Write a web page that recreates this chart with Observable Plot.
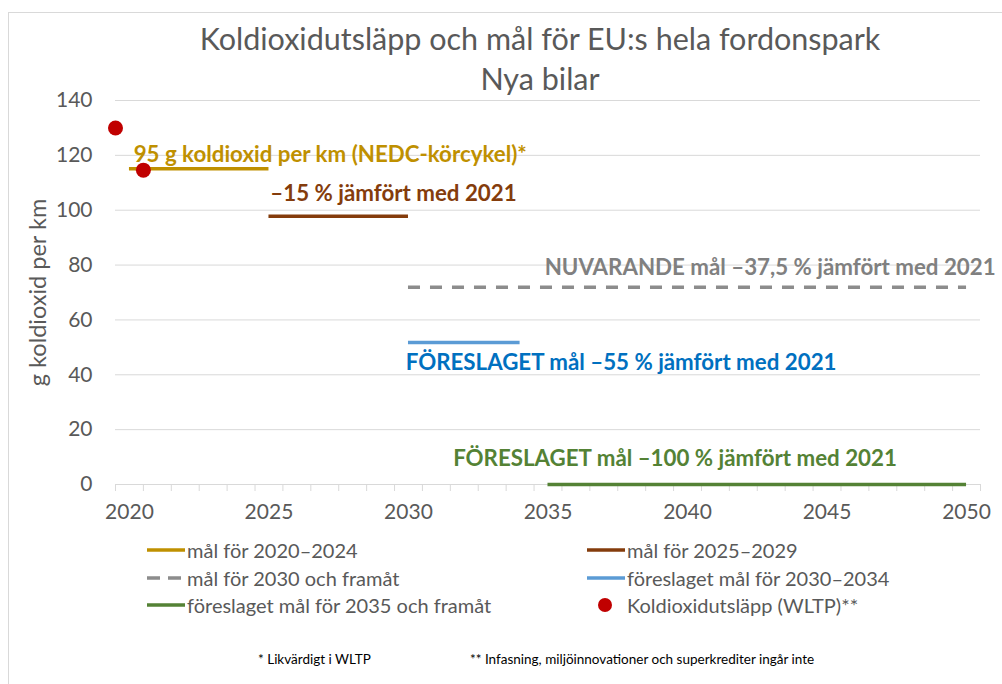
<!DOCTYPE html>
<html>
<head>
<meta charset="utf-8">
<script src="https://cdn.jsdelivr.net/npm/d3@7"></script>
<script src="https://cdn.jsdelivr.net/npm/@observablehq/plot@0.6"></script>
<style>
  html, body { margin: 0; padding: 0; background: #fff; }
  body { width: 1002px; height: 684px; overflow: hidden; font-family: Lato, "Open Sans", sans-serif; color: #595959; }
  #wrap { position: relative; width: 1002px; height: 684px; }
  #frame { position: absolute; left: 8px; top: 12px; width: 1010px; height: 700px; border: 1px solid #d9d9d9; box-sizing: border-box; }
  #chart { position: absolute; left: 0; top: 0; }
  .title { position: absolute; left: 540px; transform: translateX(-50%); white-space: nowrap; font-size: 30.5px; color: #595959; }
  .leg { position: absolute; font-size: 20px; color: #595959; white-space: nowrap; display: flex; align-items: center; }
  .leg svg { display: block; }
  .foot { position: absolute; font-size: 13.5px; color: #000; white-space: nowrap; }
</style>
</head>
<body>
<div id="wrap">
  <div id="frame"></div>
  <div id="chart"></div>
</div>
<script>
// ---- data ----
const titleLines = ["Koldioxidutsläpp och mål för EU:s hela fordonspark", "Nya bilar"];
const yLabel = "g koldioxid per km";
const xTickYears = [2020, 2025, 2030, 2035, 2040, 2045, 2050];
const yTickValues = [0, 20, 40, 60, 80, 100, 120, 140];

// target segments: label, start year, end year, value (g/km)
const targetNames = ["mål för 2020–2024", "mål för 2025–2029", "mål för 2030 och framåt", "föreslaget mål för 2030–2034", "föreslaget mål för 2035 och framåt"];
const targetStart = [2020, 2025, 2030, 2030, 2035];
const targetEnd   = [2025, 2030, 2050, 2034, 2050];
const targetValue = [115.1, 97.8, 71.9, 51.8, 0];
const targetColor = ["#BF9000", "#843C0C", "#8C8C8C", "#5B9BD5", "#548235"];
const targetDashed = [false, false, true, false, false];

// measured emissions (WLTP) as positioned in the picture
const emissionName = "Koldioxidutsläpp (WLTP)**";
const emissionX = [2019.5, 2020.5];
const emissionY = [130, 114.6];

// annotation labels
const annText  = ["95 g koldioxid per km (NEDC-körcykel)*", "–15 % jämfört med 2021", "NUVARANDE mål –37,5 % jämfört med 2021", "FÖRESLAGET mål –55 % jämfört med 2021", "FÖRESLAGET mål –100 % jämfört med 2021"];
const annX     = [2020.15, 2025.05, 2034.88, 2029.9, 2031.6];
const annY     = [120, 106, 79.1, 44.5, 9.5];
const annColor = ["#BF9000", "#843C0C", "#808080", "#0070C0", "#548235"];

const footnotes = ["* Likvärdigt i WLTP", "** Infasning, miljöinnovationer och superkrediter ingår inte"];

// ---- tables ----
const targets = targetNames.map((n, i) => ({name: n, x1: targetStart[i], x2: targetEnd[i], y: targetValue[i], color: targetColor[i], dashed: targetDashed[i]}));
const emissions = emissionX.map((x, i) => ({x, y: emissionY[i]}));
const annotations = annText.map((t, i) => ({text: t, x: annX[i], y: annY[i], color: annColor[i]}));
const categoryEdges = d3.range(2019.5, 2051, 1);

const chart = Plot.plot({
  width: 1002,
  height: 684,
  marginLeft: 115,
  marginRight: 22,
  marginTop: 100,
  marginBottom: 200,
  style: {fontFamily: "Lato, 'Open Sans', sans-serif", background: "transparent", overflow: "visible"},
  x: {domain: [2019.5, 2050.5]},
  y: {domain: [0, 140]},
  marks: [
    Plot.gridY(yTickValues, {stroke: "#d9d9d9", strokeOpacity: 1, strokeWidth: 1}),
    Plot.axisY(yTickValues, {tickSize: 0, tickPadding: 23, fontSize: 21, fill: "#595959", label: null}),
    Plot.text([yLabel], {frameAnchor: "left", dx: -77, dy: 0, rotate: -90, fontSize: 23.5, fill: "#595959", text: d => d, textAnchor: "middle"}),
    Plot.axisX(categoryEdges, {tickSize: 7, stroke: "#d9d9d9", strokeOpacity: 1, tickFormat: () => "", label: null}),
    Plot.axisX(xTickYears, {tickSize: 0, tickPadding: 20, fontSize: 21, fill: "#595959", tickFormat: d => String(d), label: null}),
    Plot.ruleY(targets.filter(d => !d.dashed), {y: "y", x1: "x1", x2: "x2", stroke: "color", strokeWidth: 3.5}),
    Plot.ruleY(targets.filter(d => d.dashed), {y: "y", x1: "x1", x2: "x2", stroke: "color", strokeWidth: 3.5, strokeDasharray: "12,10"}),
    Plot.dot(emissions, {x: "x", y: "y", r: 7.5, fill: "#C00000", stroke: "none"}),
    Plot.text(annotations, {x: "x", y: "y", text: "text", fill: "color", textAnchor: "start", fontWeight: "bold", fontSize: 22.3})
  ]
});
document.getElementById("chart").appendChild(chart);

const wrap = document.getElementById("wrap");
// titles
[[titleLines[0], 20], [titleLines[1], 60]].forEach(([t, top]) => {
  const d = document.createElement("div");
  d.className = "title"; d.textContent = t; d.style.top = top + "px";
  wrap.appendChild(d);
});
// legend
const legPos = [[147, 550], [587, 550], [147, 578], [587, 578], [147, 605]];
function swatch(color, dashed) {
  const ns = "http://www.w3.org/2000/svg";
  const s = document.createElementNS(ns, "svg");
  s.setAttribute("width", 39); s.setAttribute("height", 10);
  const l = document.createElementNS(ns, "line");
  l.setAttribute("x1", 0); l.setAttribute("x2", 38); l.setAttribute("y1", 5); l.setAttribute("y2", 5);
  l.setAttribute("stroke", color); l.setAttribute("stroke-width", 3.5);
  if (dashed) l.setAttribute("stroke-dasharray", "13,8");
  s.appendChild(l);
  return s;
}
targets.forEach((t, i) => {
  const d = document.createElement("div");
  d.className = "leg";
  d.style.left = legPos[i][0] + "px"; d.style.top = (legPos[i][1] - 12) + "px"; d.style.height = "24px";
  d.appendChild(swatch(t.color, t.dashed));
  const sp = document.createElement("span"); sp.textContent = t.name; sp.style.marginLeft = "1px";
  d.appendChild(sp);
  wrap.appendChild(d);
});
{
  const d = document.createElement("div");
  d.className = "leg";
  d.style.left = "587px"; d.style.top = (605 - 12) + "px"; d.style.height = "24px";
  const ns = "http://www.w3.org/2000/svg";
  const s = document.createElementNS(ns, "svg");
  s.setAttribute("width", 39); s.setAttribute("height", 16);
  const c = document.createElementNS(ns, "circle");
  c.setAttribute("cx", 18); c.setAttribute("cy", 8); c.setAttribute("r", 7); c.setAttribute("fill", "#C00000");
  s.appendChild(c);
  d.appendChild(s);
  const sp = document.createElement("span"); sp.textContent = emissionName; sp.style.marginLeft = "1px";
  d.appendChild(sp);
  wrap.appendChild(d);
}
// footnotes
[[footnotes[0], 258], [footnotes[1], 470]].forEach(([t, left]) => {
  const d = document.createElement("div");
  d.className = "foot"; d.textContent = t; d.style.left = left + "px"; d.style.top = "651px";
  wrap.appendChild(d);
});
</script>
</body>
</html>
